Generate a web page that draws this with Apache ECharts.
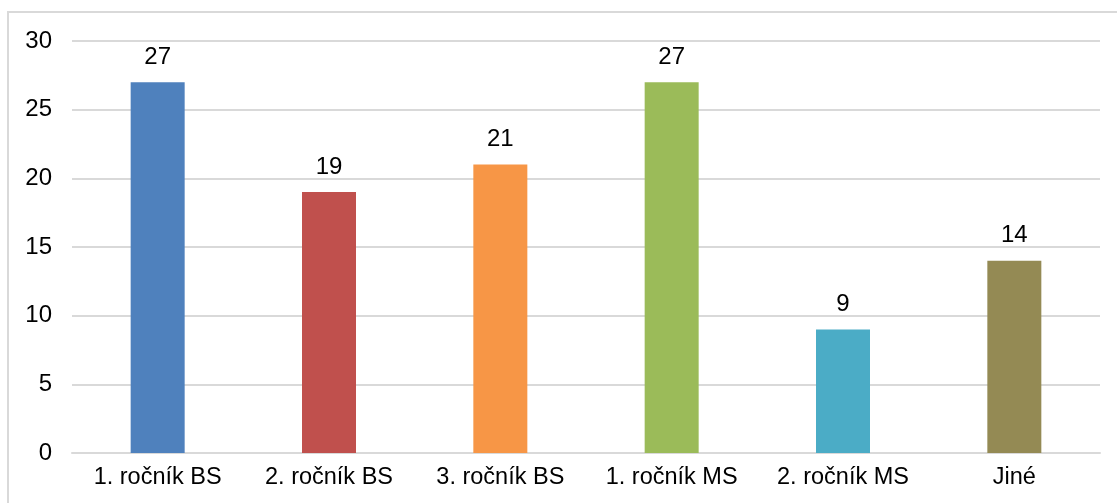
<!DOCTYPE html>
<html>
<head>
<meta charset="utf-8">
<script src="https://cdn.jsdelivr.net/npm/echarts@6/dist/echarts.min.js"></script>
<style>
  html, body { margin: 0; padding: 0; background: #fff; }
  #chart { width: 1117px; height: 503px; }
</style>
</head>
<body>
<div id="chart"></div>
<script>
// categories and values
const categories = ['1. ročník BS', '2. ročník BS', '3. ročník BS', '1. ročník MS', '2. ročník MS', 'Jiné'];
const values = [27, 19, 21, 27, 9, 14];
const barColors = ['#4F81BD', '#C0504D', '#F79646', '#9BBB59', '#4BACC6', '#948A54'];

let chart = echarts.init(document.getElementById('chart'));

let option = {
    animation: false,
    textStyle: { fontFamily: 'Liberation Sans, Arial, sans-serif' },
    graphic: [{
        type: 'rect',
        shape: { x: 8, y: 12, width: 1120, height: 500 },
        style: { fill: 'none', stroke: '#d9d9d9', lineWidth: 2 },
        silent: true
    }],
    grid: {
        left: 72,
        right: 17,
        top: 41,
        bottom: 50
    },
    xAxis: {
        type: 'category',
        data: categories,
        axisTick: { show: false },
        axisLine: { lineStyle: { color: '#d9d9d9', width: 2 } },
        axisLabel: { color: '#000', fontSize: 23.5, margin: 13, interval: 0, hideOverlap: false }
    },
    yAxis: {
        type: 'value',
        min: 0,
        max: 30,
        interval: 5,
        axisLine: { show: false },
        axisTick: { show: false },
        splitLine: { lineStyle: { color: '#d9d9d9', width: 2 } },
        axisLabel: { color: '#000', fontSize: 24, margin: 20 }
    },
    series: [{
        type: 'bar',
        data: values.map(function (v, i) {
            return { value: v, itemStyle: { color: barColors[i] } };
        }),
        barWidth: 54,
        label: {
            show: true,
            position: 'top',
            distance: 13,
            color: '#000',
            fontSize: 24
        }
    }]
};

chart.setOption(option);
</script>
</body>
</html>
